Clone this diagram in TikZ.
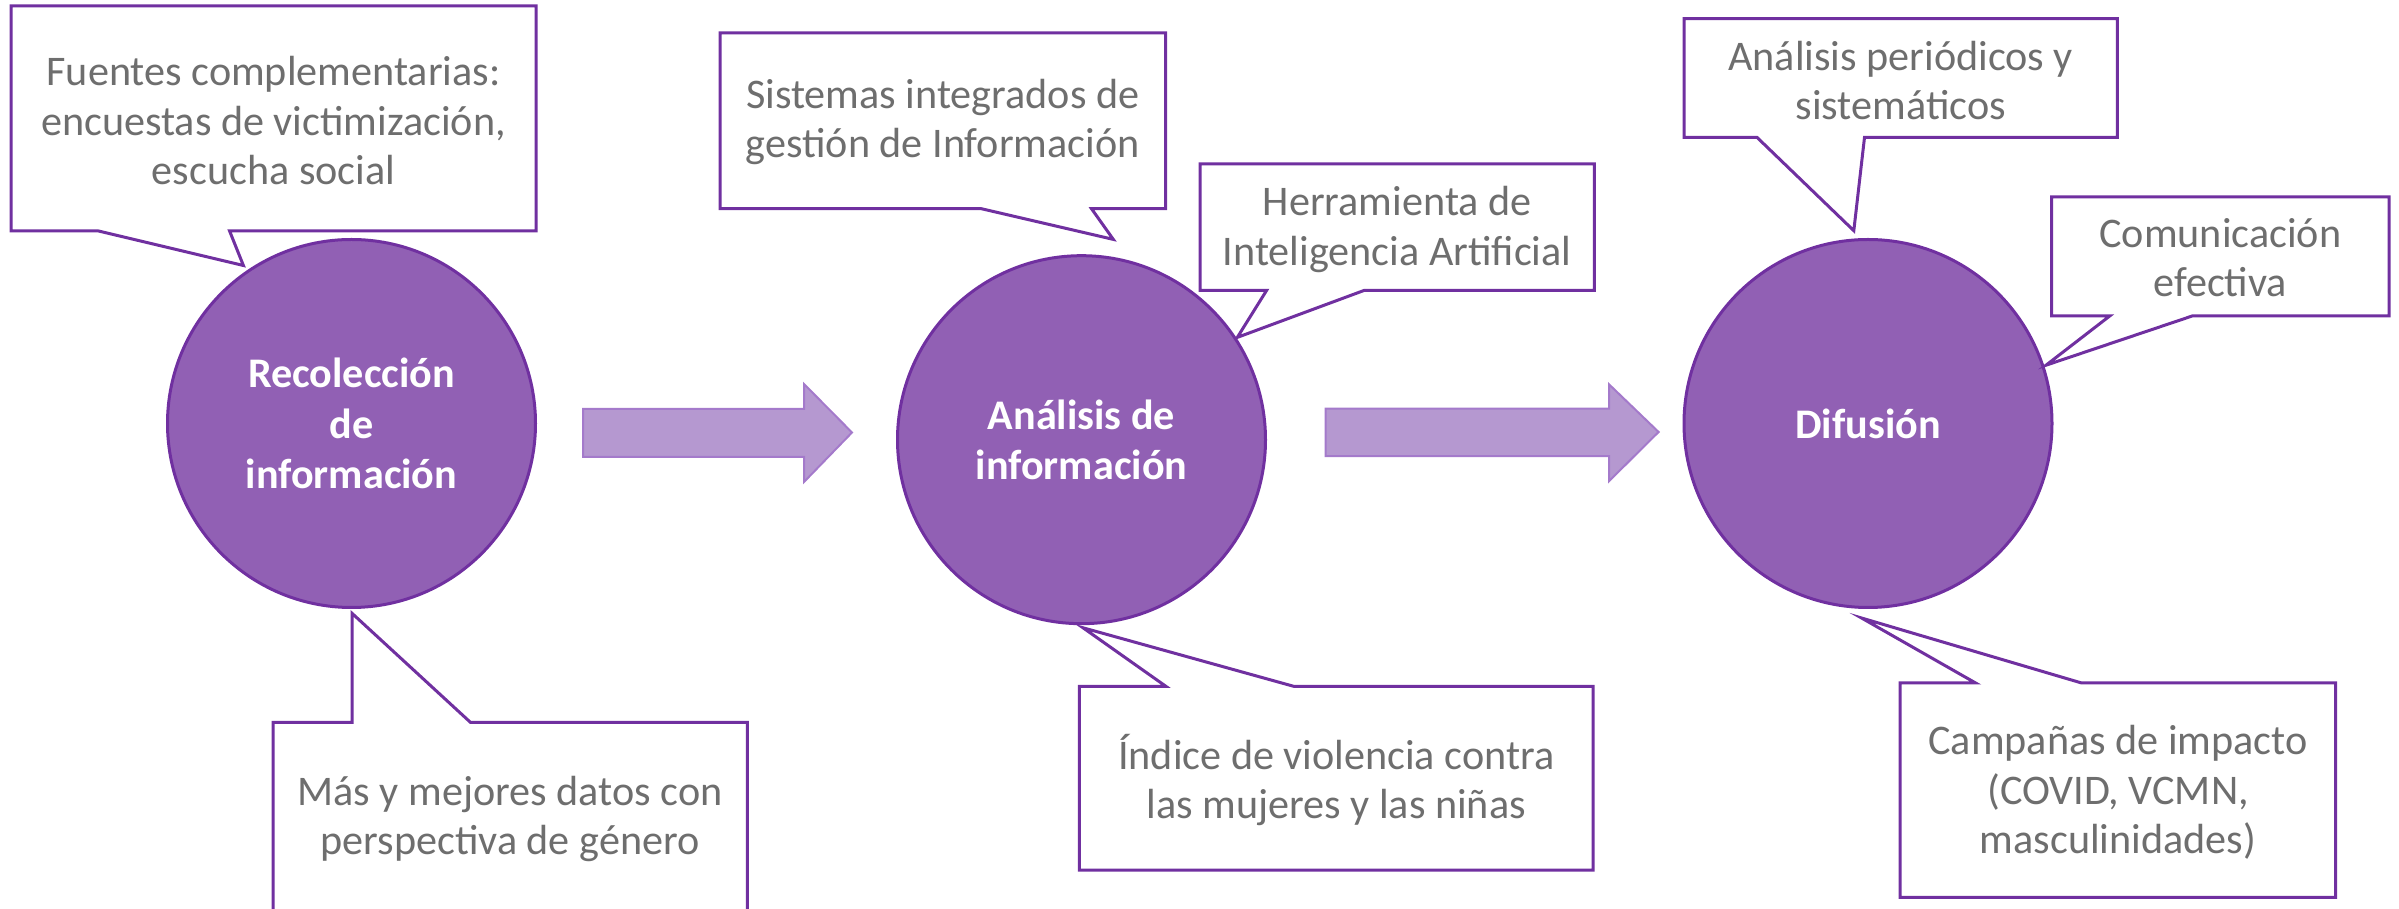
\documentclass[tikz,border=0pt]{standalone}
\usepackage{fontspec}
\setmainfont{Carlito}
\definecolor{boxpurple}{HTML}{7030A0}
\definecolor{circfill}{HTML}{9160B4}
\definecolor{arrowfill}{HTML}{B598D0}
\definecolor{arrowedge}{HTML}{A47ACB}
\definecolor{txtgray}{HTML}{6E6E6E}
\begin{document}
\begin{tikzpicture}[x=0.3pt,y=-0.3pt,
  callout/.style={draw=boxpurple, line width=0.9pt, fill=white, line join=miter},
  ctext/.style={text=txtgray, align=center, font=\fontsize{12.65}{14.8}\selectfont, inner sep=0pt},
  stage/.style={circle, draw=boxpurple, line width=0.9pt, fill=circfill, minimum size=110.4pt,
    inner sep=0pt, text=white, align=center, font=\fontsize{12.65}{15.1}\selectfont\bfseries},
  flow/.style={draw=arrowedge, line width=0.6pt, fill=arrowfill, line join=miter}]
\useasboundingbox (0,0) rectangle (2399,909);
\clip (0,0) rectangle (2399,909);

% flow arrows
\path[flow] (583,409) -- (804,409) -- (804,384) -- (852,432.5) -- (804,482) -- (804,457) -- (583,457) -- cycle;
\path[flow] (1325.7,408.7) -- (1609,408.7) -- (1609,384.3) -- (1658.6,432) -- (1609,481.2) -- (1609,456.2) -- (1325.7,456.2) -- cycle;

% stages
\node[stage] (c1) at (351.5,423.5) {Recolección\\de\\información};
\node[stage] (c2) at (1081.5,439.7) {Análisis de\\información};
\node[stage] (c3) at (1868,423.5) {Difusión};

% pointer tips
\coordinate (t1) at (243.4,265.5);
\coordinate (t2) at (352,613.3);
\coordinate (t3) at (1113.3,239.4);
\coordinate (t4) at (1237.3,337.4);
\coordinate (t5) at (1083,627.8);
\coordinate (t6) at (1853.8,230.7);
\coordinate (t7) at (2046,365.2);
\coordinate (t8) at (1861.5,618);

% callouts with pointer below
\path[callout] (11,6) -- (536,6) -- (536,231) -- (229.6,231) -- (t1) -- (98.5,231) -- (11,231) -- cycle;
\path[callout] (720,33) -- (1165.5,33) -- (1165.5,208.7) -- (1091.5,208.7) -- (t3) -- (981.3,208.7) -- (720,208.7) -- cycle;
\path[callout] (1200,164) -- (1594.4,164) -- (1594.4,290.4) -- (1364.2,290.4) -- (t4) -- (1266.6,290.4) -- (1200,290.4) -- cycle;
\path[callout] (1684.1,18.6) -- (2117.3,18.6) -- (2117.3,137.4) -- (1864.5,137.4) -- (t6) -- (1757,137.4) -- (1684.1,137.4) -- cycle;
\path[callout] (2051.6,197) -- (2389,197) -- (2389,316) -- (2192.2,316) -- (t7) -- (2109.7,316) -- (2051.6,316) -- cycle;

% callouts with pointer above
\path[callout] (273,722.3) -- (352,722.3) -- (t2) -- (470.4,722.3) -- (747.4,722.3) -- (747.4,916) -- (273,916) -- cycle;
\path[callout] (1079.4,686.4) -- (1166,686.4) -- (t5) -- (1294,686.4) -- (1593.2,686.4) -- (1593.2,870.1) -- (1079.4,870.1) -- cycle;
\path[callout] (1900.2,683) -- (1975.6,683) -- (t8) -- (2081.6,683) -- (2335.5,683) -- (2335.5,897.4) -- (1900.2,897.4) -- cycle;

% callout texts
\node[ctext] (n1) at (273.5,120.6) {Fuentes complementarias:\\encuestas de victimización,\\escucha social};
\node[ctext] (n2) at (510,819) {Más y mejores datos con\\perspectiva de género};
\node[ctext] (n3) at (942.8,122.3) {Sistemas integrados de\\gestión de Información};
\node[ctext] (n4) at (1397.2,229.5) {Herramienta de\\Inteligencia Artificial};
\node[ctext] (n5) at (1336.3,780.3) {Índice de violencia contra\\las mujeres y las niñas};
\node[ctext] (n6) at (1900.7,80.3) {Análisis periódicos y\\sistemáticos};
\node[ctext] (n7) at (2220.3,257.4) {Comunicación\\efectiva};
\node[ctext] (n8) at (2118,792.3) {Campañas de impacto\\(COVID, VCMN,\\masculinidades)};
\end{tikzpicture}
\end{document}
